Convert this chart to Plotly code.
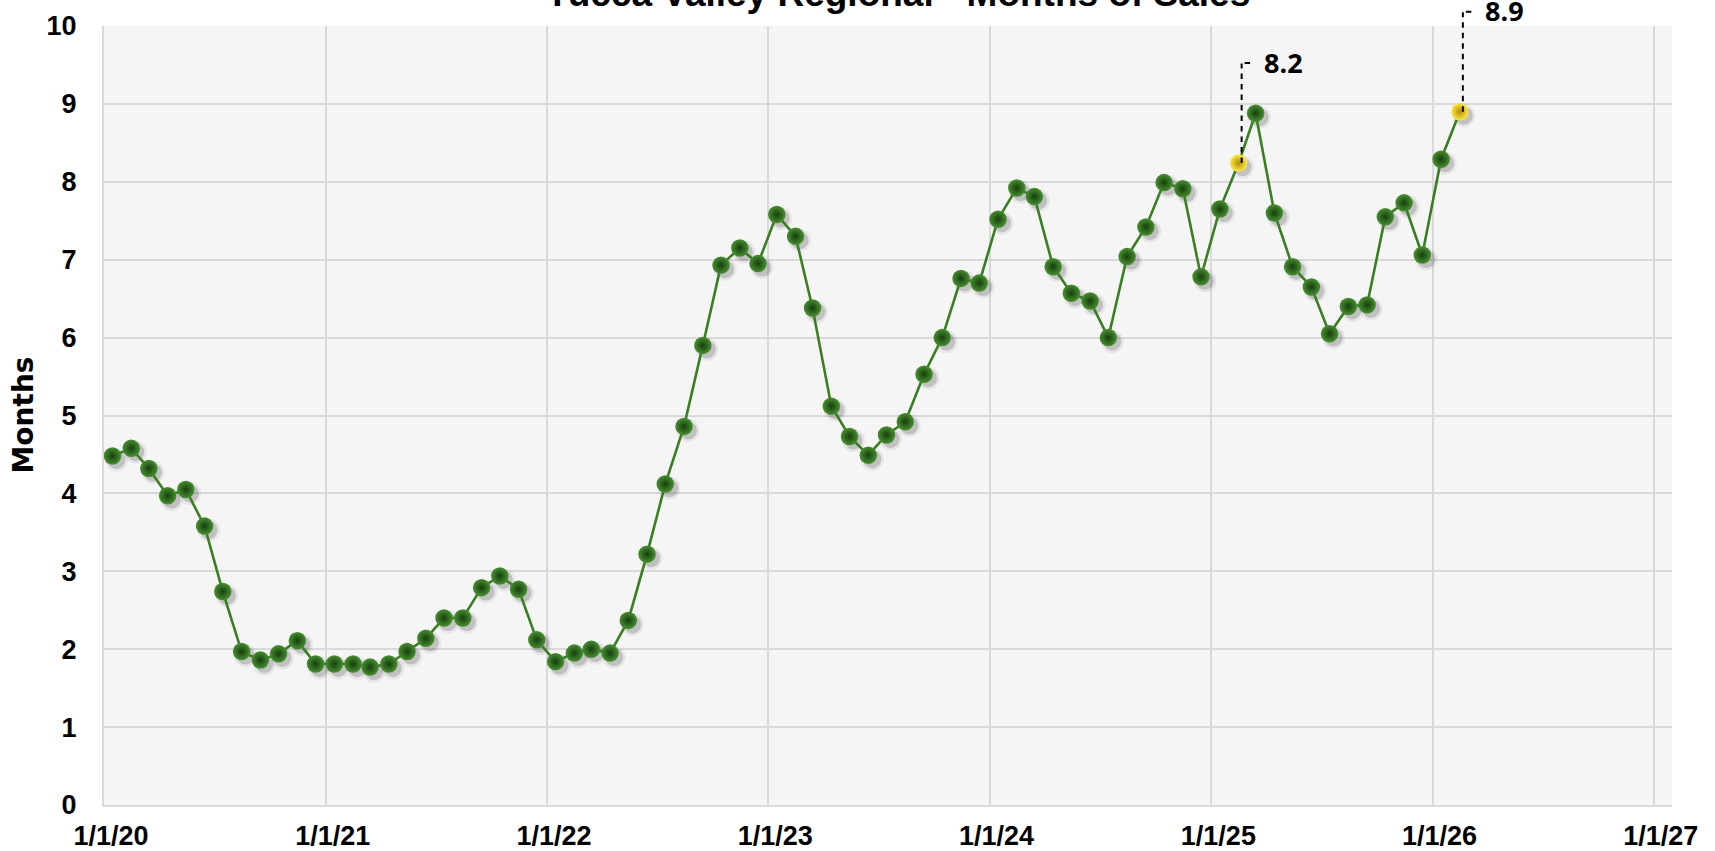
import plotly.graph_objects as go

# ---------------- data ----------------
title_text = "Yucca Valley Regional - Months of Sales"
y_title = "Months"

months_of_sales = [
    4.48, 4.58, 4.32, 3.97, 4.05, 3.58, 2.74, 1.97, 1.86, 1.94, 2.11, 1.81,   # 2020
    1.81, 1.81, 1.77, 1.81, 1.97, 2.14, 2.40, 2.40, 2.79, 2.94, 2.77, 2.12,   # 2021
    1.84, 1.95, 2.00, 1.95, 2.37, 3.22, 4.12, 4.86, 5.90, 6.93, 7.15, 6.95,   # 2022
    7.58, 7.30, 6.38, 5.12, 4.73, 4.49, 4.75, 4.92, 5.53, 6.00, 6.76, 6.70,   # 2023
    7.52, 7.92, 7.81, 6.91, 6.57, 6.47, 6.00, 7.04, 7.42, 7.99, 7.91, 6.78,   # 2024
    7.65, 8.24, 8.88, 7.60, 6.91, 6.65, 6.05, 6.40, 6.42, 7.55, 7.73, 7.06,   # 2025
    8.29, 8.90,                                                               # 2026
]
dates = [f"{2020 + i // 12}-{i % 12 + 1:02d}-15" for i in range(len(months_of_sales))]
highlight_dates = ["2025-02-15", "2026-02-15"]

x_range = ["2020-01-01", "2027-01-31"]
y_range = [0, 10]

# ---------------- layout geometry ----------------
W, H = 1715, 851
ML, MR, MT, MB = 104, 39, 26, 42
SH = 4  # shadow offset in px
PW, PH = W - ML - MR, H - MT - MB
main_xdom = [0, (PW - SH) / PW]
main_ydom = [SH / PH, 1]
shad_xdom = [SH / PW, 1]
shad_ydom = [0, (PH - SH) / PH]

GREEN_LINE = "#3a7d22"
is_hl = [d in highlight_dates for d in dates]
m_color = ["#ffe84a" if h else "#478f31" for h in is_hl]
m_grad = ["#b38f00" if h else "#163f0d" for h in is_hl]

fig = go.Figure()

# invisible trace so the gridded base axes are drawn
fig.add_trace(go.Scatter(x=[dates[0]], y=[months_of_sales[0]], mode="markers", xaxis="x", yaxis="y",
                         marker=dict(size=1, color="rgba(0,0,0,0)"), hoverinfo="skip", showlegend=False))
# shadow traces (shifted subplot)
fig.add_trace(go.Scatter(x=dates, y=months_of_sales, mode="markers", xaxis="x2", yaxis="y2",
                         marker=dict(size=23, color="rgba(0,0,0,0.06)", line=dict(width=0)),
                         hoverinfo="skip", showlegend=False, cliponaxis=False))
fig.add_trace(go.Scatter(x=dates, y=months_of_sales, mode="markers", xaxis="x2", yaxis="y2",
                         marker=dict(size=18, color="rgba(0,0,0,0.16)", line=dict(width=0)),
                         hoverinfo="skip", showlegend=False, cliponaxis=False))
# main series
fig.add_trace(go.Scatter(x=dates, y=months_of_sales, mode="lines+markers", xaxis="x3", yaxis="y3",
                         line=dict(color=GREEN_LINE, width=2.6),
                         marker=dict(size=17.5, color=m_color,
                                     gradient=dict(type="radial", color=m_grad),
                                     line=dict(width=0)),
                         showlegend=False, cliponaxis=False))

tick_font = dict(family="Liberation Sans, Arial, sans-serif", size=27, color="#000000", weight="bold")
grid_c = "#d9d9d9"

fig.update_layout(
    width=W, height=H,
    margin=dict(l=ML, r=MR, t=MT, b=MB, autoexpand=False),
    paper_bgcolor="#ffffff",
    plot_bgcolor="rgba(0,0,0,0)",
    showlegend=False,
    xaxis=dict(domain=main_xdom, anchor="y", type="date", range=x_range, automargin=False,
               tick0="2020-01-01", dtick="M12", tickformat="%-m/%-d/%y",
               showgrid=True, gridcolor=grid_c, gridwidth=2,
               showline=True, linecolor=grid_c, linewidth=2,
               ticks="outside", ticklen=6, tickcolor="rgba(0,0,0,0)",
               ticklabelshift=7, tickfont=tick_font, zeroline=False),
    yaxis=dict(domain=main_ydom, anchor="x", range=y_range, dtick=1, automargin=False,
               showgrid=True, gridcolor=grid_c, gridwidth=2,
               showline=True, linecolor=grid_c, linewidth=2,
               ticks="outside", ticklen=20, tickcolor="rgba(0,0,0,0)",
               tickfont=tick_font, zeroline=False),
    xaxis2=dict(domain=shad_xdom, anchor="y2", type="date", range=x_range, visible=False, automargin=False),
    yaxis2=dict(domain=shad_ydom, anchor="x2", range=y_range, visible=False, automargin=False),
    xaxis3=dict(domain=main_xdom, anchor="y3", type="date", range=x_range, visible=False, automargin=False),
    yaxis3=dict(domain=main_ydom, anchor="x3", range=y_range, visible=False, automargin=False),
    shapes=[dict(type="rect", xref="x domain", yref="y domain", x0=0, x1=1, y0=0, y1=1,
                 fillcolor="#f5f5f5", line=dict(width=0), layer="below")],
)

annotations = [
    dict(text=title_text, xref="paper", yref="paper", x=(897 - ML) / PW, y=1,
         xanchor="center", yanchor="bottom", yshift=10, showarrow=False,
         font=dict(family="Liberation Sans, Arial, sans-serif", size=37, color="#000000", weight="bold")),
    dict(text=y_title, xref="paper", yref="y domain", x=(23 - ML) / PW, y=0.5,
         xanchor="center", yanchor="middle", textangle=-90, showarrow=False,
         font=dict(family="DejaVu Sans, Verdana, sans-serif", size=28, color="#000000", weight="bold")),
]

# data-label callouts with dashed leader lines
LEAD = 101
for d, v, h in zip(dates, months_of_sales, is_hl):
    if not h:
        continue
    start = 0.0
    while start < LEAD:
        end = min(start + 7, LEAD)
        annotations.append(dict(x=d, y=v, xref="x3", yref="y3", text="", showarrow=True,
                                arrowhead=0, arrowwidth=2, arrowcolor="#000000",
                                ax=0, ay=-end, standoff=start, startstandoff=0, xshift=3))
        start += 10.5
    annotations.append(dict(x=d, y=v, xref="x3", yref="y3", text="", showarrow=True,
                            arrowhead=0, arrowwidth=2, arrowcolor="#000000",
                            ax=7, ay=0, standoff=0, xshift=6, yshift=LEAD - 1))
    annotations.append(dict(x=d, y=v, xref="x3", yref="y3", text=f"{v:.1f}", showarrow=False,
                            xanchor="left", yanchor="middle", xshift=23, yshift=LEAD,
                            font=dict(family="Open Sans, sans-serif", size=27, color="#000000", weight="bold")))

fig.update_layout(annotations=annotations)

fig.write_html("out.html", config={"displayModeBar": False},
               post_script="document.body.style.margin='0';document.body.style.overflow='hidden';")
